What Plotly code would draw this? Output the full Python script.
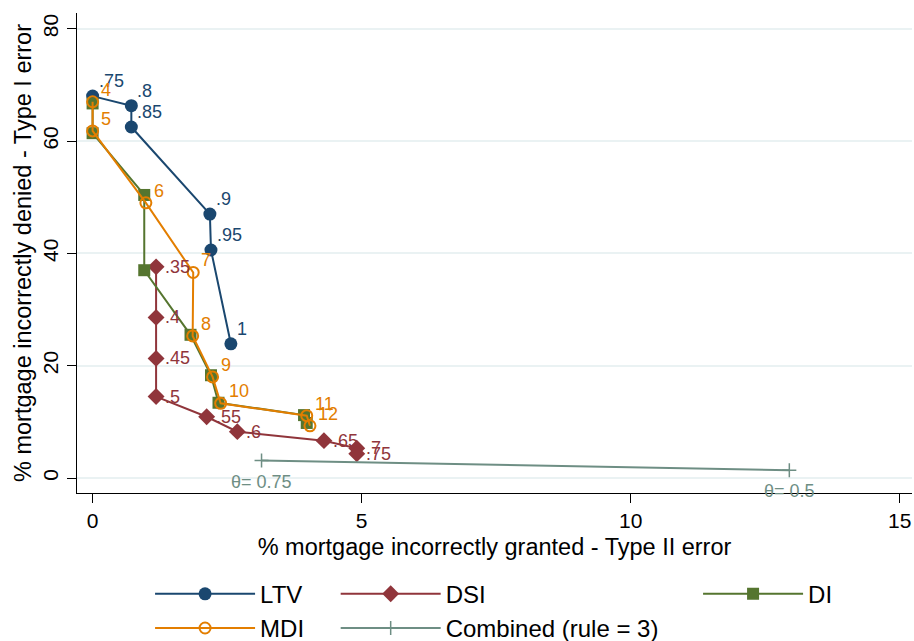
import plotly.graph_objects as go

# ---- data ----
ltv_x = [0.0, 0.72, 0.72, 2.18, 2.20, 2.57]
ltv_y = [68.0, 66.3, 62.5, 47.0, 40.6, 23.9]
ltv_labels = [".75", ".8", ".85", ".9", ".95", "1"]

dsi_x = [1.18, 1.18, 1.18, 1.18, 2.12, 2.69, 4.30, 4.91, 4.91]
dsi_y = [37.6, 28.6, 21.3, 14.5, 10.9, 8.25, 6.65, 5.3, 4.3]
dsi_labels = [".35", ".4", ".45", ".5", ".55", ".6", ".65", ".7", ".75"]

di_x = [0.0, 0.0, 0.96, 0.96, 1.82, 2.20, 2.34, 3.93, 3.98]
di_y = [66.7, 61.4, 50.4, 37.0, 25.5, 18.3, 13.4, 11.2, 9.8]

mdi_x = [0.0, 0.0, 0.99, 1.87, 1.86, 2.23, 2.38, 3.98, 4.04]
mdi_y = [67.0, 61.8, 49.0, 36.6, 25.3, 18.0, 13.3, 11.1, 9.3]
mdi_labels = ["4", "5", "6", "7", "8", "9", "10", "11", "12"]

comb_x = [3.14, 12.95]
comb_y = [3.1, 1.4]
comb_labels = ["θ= 0.75", "θ= 0.5"]

x_ticks = [0, 5, 10, 15]
y_ticks = [0, 20, 40, 60, 80]

x_title = "% mortgage incorrectly granted - Type II error"
y_title = "% mortgage incorrectly denied - Type I error"

# ---- styles ----
C_LTV = "#1a476f"
C_DSI = "#90353b"
C_DI = "#55752f"
C_MDI = "#e37e00"
C_COMB = "#6e8e84"
FONT = "Liberation Sans, Arial, sans-serif"
LBL = 18

fig = go.Figure()

def series(x, y, name, color, symbol, size, legend, line_w=None):
    marker = dict(symbol=symbol, size=size, color=color)
    if line_w is not None:
        marker["line"] = dict(width=line_w, color=color)
    fig.add_trace(go.Scatter(x=x, y=y, name=name, mode="lines+markers",
                             line=dict(color=color, width=2), marker=marker,
                             legend=legend, hoverinfo="skip"))

annotations = []

def labels(x, y, text, color, xanchor, xshift, yshift):
    for xi, yi, ti in zip(x, y, text):
        annotations.append(dict(x=xi, y=yi, xref="x", yref="y", text=ti,
                                showarrow=False, xanchor=xanchor,
                                yanchor="middle", xshift=xshift,
                                yshift=yshift,
                                font=dict(color=color, size=LBL, family=FONT)))

series(ltv_x, ltv_y, "LTV", C_LTV, "circle", 13, "legend")
series(dsi_x, dsi_y, "DSI", C_DSI, "diamond", 13, "legend2")
series(di_x, di_y, "DI", C_DI, "square", 12, "legend3")
series(mdi_x, mdi_y, "MDI", C_MDI, "circle-open", 11, "legend", line_w=2)
series(comb_x, comb_y, "Combined (rule = 3)", C_COMB, "cross-thin", 10, "legend2", line_w=1.5)

labels(ltv_x, ltv_y, ltv_labels, C_LTV, "left", 4, 15)
labels(dsi_x, dsi_y, dsi_labels, C_DSI, "left", 7, 0)
labels(mdi_x, mdi_y, mdi_labels, C_MDI, "left", 6, 12)
labels(comb_x, comb_y, comb_labels, C_COMB, "center", 0, -21)

leg_common = dict(orientation="v", xanchor="left", yanchor="top",
                  font=dict(size=24, family=FONT, color="black"),
                  itemwidth=100, bgcolor="rgba(0,0,0,0)", borderwidth=0,
                  tracegroupgap=0)

fig.update_layout(
    width=914, height=641,
    margin=dict(l=77, r=2, t=13, b=148, autoexpand=False),
    paper_bgcolor="white", plot_bgcolor="white",
    font=dict(family=FONT, color="black"),
    showlegend=True,
    annotations=annotations,
    legend=dict(x=0.0875, y=-0.164, **leg_common),
    legend2=dict(x=0.3098, y=-0.164, **leg_common),
    legend3=dict(x=0.7438, y=-0.164, **leg_common),
    xaxis=dict(range=[-0.29, 15.23], tickvals=x_ticks, showline=True,
               linecolor="black", linewidth=1.3, ticks="outside", ticklen=9,
               tickcolor="black", tickwidth=1.3, tickfont=dict(size=21),
               showgrid=False, zeroline=False, automargin=False,
               title=dict(text=x_title, font=dict(size=23.5), standoff=7)),
    yaxis=dict(range=[-2.67, 82.8], tickvals=y_ticks, tickangle=-90,
               showline=True, linecolor="black", linewidth=1.3,
               ticks="outside", ticklen=9, tickcolor="black", tickwidth=1.3,
               tickfont=dict(size=21), showgrid=True, gridcolor="#eaf2f3",
               gridwidth=2, zeroline=False, automargin=False,
               title=dict(text=y_title, font=dict(size=23.5), standoff=1)),
)

fig.write_html("out.html",
               config={"displayModeBar": False},
               post_script="document.body.style.margin='0';"
                           "document.body.style.overflow='hidden';")
